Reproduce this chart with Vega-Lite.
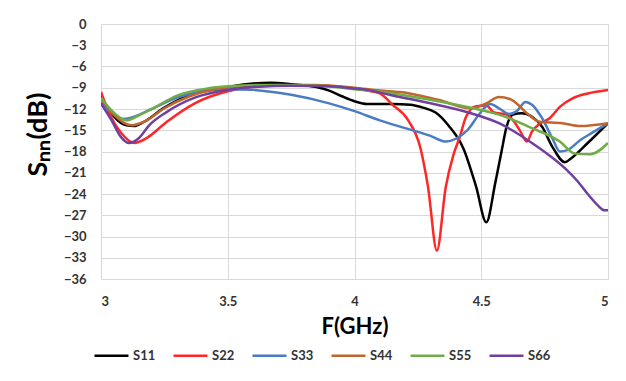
{
  "$schema": "https://vega.github.io/schema/vega-lite/v6.json",
  "width": 507,
  "height": 255,
  "autosize": {"type": "none"},
  "padding": {"left": 101, "top": 24, "right": 18, "bottom": 102},
  "background": "white",
  "config": {
    "font": "Lato",
    "view": {"stroke": "#d9d9d9", "strokeWidth": 1},
    "axis": {"gridColor": "#d9d9d9", "gridWidth": 1, "domain": false, "ticks": false}
  },
  "data": {"values": [
    {"s":"S11","f":3.00,"db":-10.2},{"s":"S11","f":3.05,"db":-13.0},{"s":"S11","f":3.10,"db":-14.3},{"s":"S11","f":3.13,"db":-14.4},{"s":"S11","f":3.17,"db":-13.8},{"s":"S11","f":3.25,"db":-11.8},{"s":"S11","f":3.35,"db":-10.0},{"s":"S11","f":3.50,"db":-8.9},{"s":"S11","f":3.60,"db":-8.4},{"s":"S11","f":3.67,"db":-8.3},{"s":"S11","f":3.75,"db":-8.5},{"s":"S11","f":3.85,"db":-8.9},{"s":"S11","f":3.90,"db":-9.4},{"s":"S11","f":3.95,"db":-10.2},{"s":"S11","f":4.00,"db":-10.9},{"s":"S11","f":4.05,"db":-11.3},{"s":"S11","f":4.15,"db":-11.3},{"s":"S11","f":4.22,"db":-11.4},{"s":"S11","f":4.27,"db":-11.8},{"s":"S11","f":4.32,"db":-12.5},{"s":"S11","f":4.37,"db":-14.3},{"s":"S11","f":4.43,"db":-17.6},{"s":"S11","f":4.48,"db":-23.0},{"s":"S11","f":4.52,"db":-28.0},{"s":"S11","f":4.555,"db":-22.5},{"s":"S11","f":4.58,"db":-18.0},{"s":"S11","f":4.60,"db":-14.5},{"s":"S11","f":4.625,"db":-12.8},{"s":"S11","f":4.66,"db":-12.6},{"s":"S11","f":4.70,"db":-13.1},{"s":"S11","f":4.74,"db":-14.5},{"s":"S11","f":4.78,"db":-17.3},{"s":"S11","f":4.83,"db":-19.5},{"s":"S11","f":4.86,"db":-18.8},{"s":"S11","f":4.92,"db":-16.8},{"s":"S11","f":5.00,"db":-14.0},
    {"s":"S22","f":3.00,"db":-9.6},{"s":"S22","f":3.03,"db":-12.4},{"s":"S22","f":3.08,"db":-15.4},{"s":"S22","f":3.13,"db":-16.8},{"s":"S22","f":3.18,"db":-16.1},{"s":"S22","f":3.26,"db":-13.8},{"s":"S22","f":3.37,"db":-11.2},{"s":"S22","f":3.50,"db":-9.5},{"s":"S22","f":3.57,"db":-9.0},{"s":"S22","f":3.70,"db":-8.7},{"s":"S22","f":3.85,"db":-8.7},{"s":"S22","f":3.95,"db":-8.9},{"s":"S22","f":4.05,"db":-9.4},{"s":"S22","f":4.10,"db":-9.8},{"s":"S22","f":4.15,"db":-11.4},{"s":"S22","f":4.21,"db":-13.5},{"s":"S22","f":4.26,"db":-17.5},{"s":"S22","f":4.29,"db":-23.0},{"s":"S22","f":4.325,"db":-32.0},{"s":"S22","f":4.36,"db":-23.0},{"s":"S22","f":4.39,"db":-18.5},{"s":"S22","f":4.415,"db":-16.0},{"s":"S22","f":4.44,"db":-13.1},{"s":"S22","f":4.48,"db":-11.6},{"s":"S22","f":4.52,"db":-11.5},{"s":"S22","f":4.55,"db":-12.5},{"s":"S22","f":4.60,"db":-12.8},{"s":"S22","f":4.63,"db":-13.8},{"s":"S22","f":4.655,"db":-15.2},{"s":"S22","f":4.68,"db":-16.6},{"s":"S22","f":4.70,"db":-15.2},{"s":"S22","f":4.73,"db":-14.1},{"s":"S22","f":4.77,"db":-13.3},{"s":"S22","f":4.81,"db":-11.7},{"s":"S22","f":4.86,"db":-10.5},{"s":"S22","f":4.92,"db":-9.8},{"s":"S22","f":5.00,"db":-9.3},
    {"s":"S33","f":3.00,"db":-11.0},{"s":"S33","f":3.05,"db":-12.8},{"s":"S33","f":3.09,"db":-13.4},{"s":"S33","f":3.13,"db":-13.1},{"s":"S33","f":3.20,"db":-12.0},{"s":"S33","f":3.30,"db":-10.4},{"s":"S33","f":3.40,"db":-9.5},{"s":"S33","f":3.50,"db":-9.2},{"s":"S33","f":3.60,"db":-9.3},{"s":"S33","f":3.75,"db":-10.0},{"s":"S33","f":3.90,"db":-11.2},{"s":"S33","f":4.00,"db":-12.3},{"s":"S33","f":4.10,"db":-13.6},{"s":"S33","f":4.20,"db":-14.7},{"s":"S33","f":4.30,"db":-15.8},{"s":"S33","f":4.36,"db":-16.6},{"s":"S33","f":4.40,"db":-16.2},{"s":"S33","f":4.445,"db":-15.0},{"s":"S33","f":4.495,"db":-12.6},{"s":"S33","f":4.535,"db":-11.3},{"s":"S33","f":4.57,"db":-11.9},{"s":"S33","f":4.61,"db":-12.7},{"s":"S33","f":4.64,"db":-12.3},{"s":"S33","f":4.675,"db":-11.0},{"s":"S33","f":4.70,"db":-11.4},{"s":"S33","f":4.74,"db":-13.3},{"s":"S33","f":4.78,"db":-16.1},{"s":"S33","f":4.81,"db":-18.0},{"s":"S33","f":4.84,"db":-17.8},{"s":"S33","f":4.89,"db":-16.4},{"s":"S33","f":4.94,"db":-15.3},{"s":"S33","f":5.00,"db":-14.0},
    {"s":"S44","f":3.00,"db":-10.5},{"s":"S44","f":3.05,"db":-12.8},{"s":"S44","f":3.12,"db":-14.3},{"s":"S44","f":3.17,"db":-13.8},{"s":"S44","f":3.25,"db":-11.9},{"s":"S44","f":3.35,"db":-10.2},{"s":"S44","f":3.45,"db":-9.2},{"s":"S44","f":3.55,"db":-8.8},{"s":"S44","f":3.70,"db":-8.6},{"s":"S44","f":3.85,"db":-8.6},{"s":"S44","f":4.00,"db":-9.0},{"s":"S44","f":4.10,"db":-9.4},{"s":"S44","f":4.18,"db":-9.6},{"s":"S44","f":4.33,"db":-10.7},{"s":"S44","f":4.46,"db":-11.9},{"s":"S44","f":4.52,"db":-11.2},{"s":"S44","f":4.57,"db":-10.3},{"s":"S44","f":4.62,"db":-10.7},{"s":"S44","f":4.68,"db":-12.6},{"s":"S44","f":4.73,"db":-13.8},{"s":"S44","f":4.82,"db":-14.0},{"s":"S44","f":4.89,"db":-14.4},{"s":"S44","f":5.00,"db":-14.0},
    {"s":"S55","f":3.00,"db":-10.4},{"s":"S55","f":3.05,"db":-12.5},{"s":"S55","f":3.10,"db":-13.6},{"s":"S55","f":3.15,"db":-12.9},{"s":"S55","f":3.20,"db":-12.0},{"s":"S55","f":3.30,"db":-10.1},{"s":"S55","f":3.42,"db":-9.1},{"s":"S55","f":3.50,"db":-8.8},{"s":"S55","f":3.65,"db":-8.6},{"s":"S55","f":3.85,"db":-8.7},{"s":"S55","f":4.00,"db":-9.2},{"s":"S55","f":4.15,"db":-9.8},{"s":"S55","f":4.30,"db":-10.7},{"s":"S55","f":4.47,"db":-11.9},{"s":"S55","f":4.57,"db":-12.8},{"s":"S55","f":4.70,"db":-14.7},{"s":"S55","f":4.81,"db":-16.6},{"s":"S55","f":4.87,"db":-18.3},{"s":"S55","f":4.93,"db":-18.4},{"s":"S55","f":5.00,"db":-16.8},
    {"s":"S66","f":3.00,"db":-11.2},{"s":"S66","f":3.04,"db":-13.5},{"s":"S66","f":3.08,"db":-16.0},{"s":"S66","f":3.11,"db":-16.8},{"s":"S66","f":3.15,"db":-16.1},{"s":"S66","f":3.19,"db":-14.3},{"s":"S66","f":3.26,"db":-12.4},{"s":"S66","f":3.37,"db":-10.4},{"s":"S66","f":3.50,"db":-9.3},{"s":"S66","f":3.60,"db":-8.9},{"s":"S66","f":3.75,"db":-8.7},{"s":"S66","f":3.90,"db":-8.8},{"s":"S66","f":4.00,"db":-9.1},{"s":"S66","f":4.05,"db":-9.3},{"s":"S66","f":4.15,"db":-10.1},{"s":"S66","f":4.30,"db":-11.2},{"s":"S66","f":4.46,"db":-12.6},{"s":"S66","f":4.57,"db":-14.0},{"s":"S66","f":4.70,"db":-16.8},{"s":"S66","f":4.77,"db":-18.6},{"s":"S66","f":4.84,"db":-20.7},{"s":"S66","f":4.88,"db":-22.2},{"s":"S66","f":4.92,"db":-24.0},{"s":"S66","f":4.96,"db":-25.6},{"s":"S66","f":4.985,"db":-26.3},{"s":"S66","f":5.00,"db":-26.3}
  ]},
  "mark": {"type": "line", "interpolate": "monotone", "strokeWidth": 2.5, "clip": true},
  "encoding": {
    "x": {
      "field": "f", "type": "quantitative",
      "scale": {"domain": [3, 5], "nice": false, "zero": false},
      "axis": {
        "values": [3, 3.5, 4, 4.5, 5], "format": "~g",
        "labelFontSize": 13, "labelFontWeight": "bold", "labelColor": "#333333", "labelPadding": 16,
        "title": "F(GHz)", "titleFontSize": 22, "titleFontWeight": "bold", "titleColor": "#000000",
        "titleY": 47, "titleBaseline": "middle"
      }
    },
    "y": {
      "field": "db", "type": "quantitative",
      "scale": {"domain": [-36, 0], "nice": false, "zero": false},
      "axis": {
        "values": [0, -3, -6, -9, -12, -15, -18, -21, -24, -27, -30, -33, -36],
        "labelFontSize": 13, "labelFontWeight": "bold", "labelColor": "#333333", "labelPadding": 15,
        "title": "Sₙₙ(dB)", "titleFontSize": 27, "titleFontWeight": "bold", "titleColor": "#000000",
        "titleX": -63, "titleY": 110, "titleAlign": "center", "titleBaseline": "middle"
      }
    },
    "color": {
      "field": "s", "type": "nominal",
      "scale": {"domain": ["S11", "S22", "S33", "S44", "S55", "S66"], "range": ["#000000", "#ff2626", "#4a7cc4", "#c0652c", "#70ad47", "#7040a0"]},
      "legend": {
        "title": null, "orient": "none", "direction": "horizontal", "legendX": -8, "legendY": 313,
        "symbolType": "stroke", "symbolSize": 1156, "symbolStrokeWidth": 2.5,
        "labelFontSize": 13, "labelFontWeight": "bold", "labelColor": "#333333", "labelOffset": 3,
        "columnPadding": 12, "padding": 0
      }
    }
  }
}
